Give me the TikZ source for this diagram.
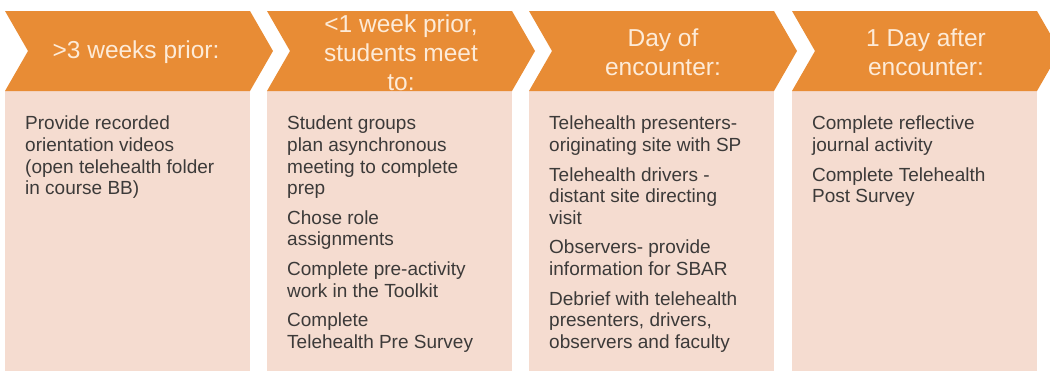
\documentclass[tikz,border=0pt]{standalone}
\usepackage{fontspec}
\setmainfont{Liberation Sans}
\definecolor{phaseorange}{HTML}{E88C35}
\definecolor{panelpeach}{HTML}{F5DCD0}
\definecolor{headcream}{HTML}{FDEBD8}
\definecolor{bodygray}{HTML}{3C3A39}
\tikzset{
  headlabel/.style={text=headcream, font=\fontsize{24.5}{29}\selectfont, align=center, inner sep=0pt},
  steplist/.style={text=bodygray, font=\fontsize{19}{21.6}\selectfont, align=left, inner sep=0pt, anchor=north west}
}
\begin{document}
\begin{tikzpicture}[x=1pt, y=-1pt]
  \useasboundingbox (0,0) rectangle (1050,370);
  \clip (0,0) rectangle (1050,370);
  \begin{scope}[panelpeach]
    \fill (5,91) rectangle (250,372);
    \fill (267,91) rectangle (512,372);
    \fill (529,91) rectangle (774,372);
    \fill (792,91) rectangle (1037,372);
  \end{scope}
  \begin{scope}[phaseorange]
    \fill (5,11) -- (250,11) -- (273,51) -- (250,91) -- (5,91) -- (28,51) -- cycle;
    \fill (267,11) -- (512,11) -- (535,51) -- (512,91) -- (267,91) -- (290,51) -- cycle;
    \fill (529,11) -- (774,11) -- (797,51) -- (774,91) -- (529,91) -- (552,51) -- cycle;
    \fill (792,11) -- (1037,11) -- (1060,51) -- (1037,91) -- (792,91) -- (815,51) -- cycle;
  \end{scope}
  \node[headlabel] (h1) at (136,52) {>3 weeks prior:};
  \node[headlabel] (h2) at (401,53) {<1 week prior,\\students meet\\to:};
  \node[headlabel] (h3) at (663,52) {Day of\\encounter:};
  \node[headlabel] (h4) at (926,52) {1 Day after\\encounter:};
  \node[steplist] (b1) at (25,116) {Provide recorded\\orientation videos\\(open telehealth folder\\in course BB)};
  \node[steplist] (b2) at (287,116) {Student groups\\plan asynchronous\\meeting to complete\\prep\\[8pt]
    Chose role\\assignments\\[8pt]
    Complete pre-activity\\work in the Toolkit\\[8pt]
    Complete\\Telehealth Pre Survey};
  \node[steplist] (b3) at (549,116) {Telehealth presenters-\\originating site with SP\\[8pt]
    Telehealth drivers -\\distant site directing\\visit\\[8pt]
    Observers- provide\\information for SBAR\\[8pt]
    Debrief with telehealth\\presenters, drivers,\\observers and faculty};
  \node[steplist] (b4) at (812,116) {Complete reflective\\journal activity\\[8pt]
    Complete Telehealth\\Post Survey};
\end{tikzpicture}
\end{document}
